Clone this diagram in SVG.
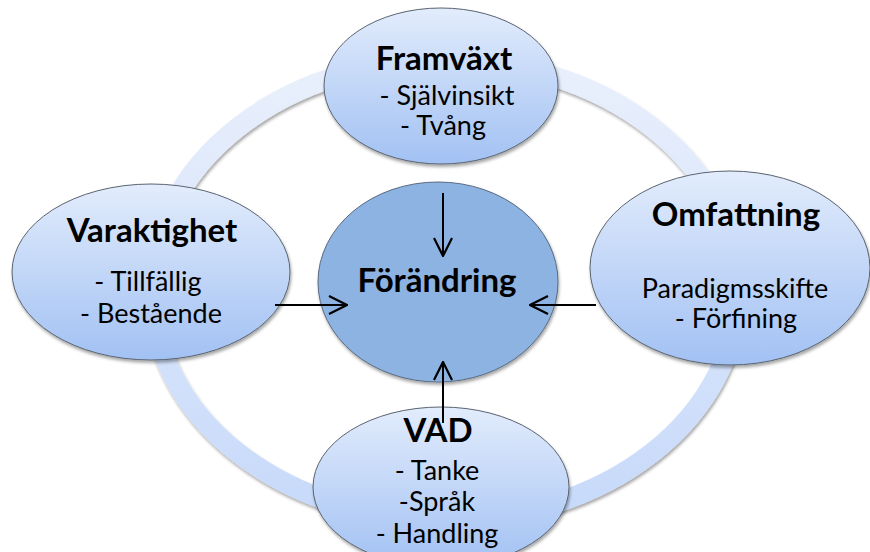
<svg xmlns="http://www.w3.org/2000/svg" width="870" height="552" viewBox="0 0 870 552">
  <defs>
    <linearGradient id="ringGrad" gradientUnits="userSpaceOnUse" x1="0" y1="50" x2="0" y2="530">
      <stop offset="0" stop-color="#eaf0fc"/>
      <stop offset="1" stop-color="#c6d9fa"/>
    </linearGradient>
    <linearGradient id="nodeGrad" x1="0" y1="0" x2="0" y2="1">
      <stop offset="0" stop-color="#e2ecfc"/>
      <stop offset="1" stop-color="#a2c1f3"/>
    </linearGradient>
    <filter id="shadow" x="-10%" y="-10%" width="120%" height="125%">
      <feDropShadow dx="1" dy="2.5" stdDeviation="1.6" flood-color="#000" flood-opacity="0.35"/>
    </filter>
    <marker id="arrow" viewBox="0 0 20 20" refX="19" refY="10" markerWidth="20" markerHeight="20" markerUnits="userSpaceOnUse" orient="auto">
      <path d="M1,1 L19,10 L1,19" fill="none" stroke="#000" stroke-width="2.2"/>
    </marker>
    <style>
      .node { fill: url(#nodeGrad); stroke: #5a6470; stroke-width: 1; filter: url(#shadow); }
      .hub { fill: #8db3e2; stroke: #5a6a80; stroke-width: 1; filter: url(#shadow); }
      .title { font-family: Lato, "Open Sans", "Liberation Sans", sans-serif; font-weight: bold; font-size: 33px; fill: #000; text-anchor: middle; }
      .item { font-family: Lato, "Open Sans", "Liberation Sans", sans-serif; font-size: 27px; fill: #000; text-anchor: middle; }
      .conn { stroke: #000; stroke-width: 2; fill: none; marker-end: url(#arrow); }
    </style>
  </defs>

  <rect width="870" height="552" fill="#ffffff"/>

  <!-- background cycle ring -->
  <g id="ring">
    <ellipse cx="445" cy="290" rx="293" ry="230" fill="none" stroke="url(#ringGrad)" stroke-width="20" filter="url(#shadow)"/>
  </g>

  <g id="framvaxt">
    <ellipse class="node" cx="441" cy="86" rx="117" ry="78"/>
    <text class="title" x="444" y="70">Framväxt</text>
    <text class="item" x="447" y="105">- Självinsikt</text>
    <text class="item" x="443" y="135">- Tvång</text>
  </g>

  <g id="varaktighet">
    <ellipse class="node" cx="151" cy="272" rx="139" ry="88"/>
    <text class="title" x="152" y="242">Varaktighet</text>
    <text class="item" x="148" y="291">- Tillfällig</text>
    <text class="item" x="151" y="323">- Bestående</text>
  </g>

  <g id="omfattning">
    <ellipse class="node" cx="730" cy="268" rx="140" ry="97"/>
    <text class="title" x="736" y="226">Omfattning</text>
    <text class="item" x="735" y="298">Paradigmsskifte</text>
    <text class="item" x="736" y="328">- Förfining</text>
  </g>

  <g id="vad">
    <ellipse class="node" cx="441" cy="487" rx="128" ry="80"/>
    <text class="title" x="438" y="442">VAD</text>
    <text class="item" x="437" y="480">- Tanke</text>
    <text class="item" x="437" y="511">-Språk</text>
    <text class="item" x="437" y="543">- Handling</text>
  </g>

  <g id="forandring">
    <ellipse class="hub" cx="438" cy="282" rx="120" ry="100"/>
    <text class="title" x="437" y="292">Förändring</text>
  </g>

  <!-- arrows pointing into the hub -->
  <g id="connectors">
    <line class="conn" x1="443" y1="193" x2="443" y2="256"/>
    <line class="conn" x1="275" y1="305" x2="347" y2="305"/>
    <line class="conn" x1="596" y1="305" x2="530" y2="305"/>
    <line class="conn" x1="443" y1="423" x2="443" y2="362"/>
  </g>
</svg>
